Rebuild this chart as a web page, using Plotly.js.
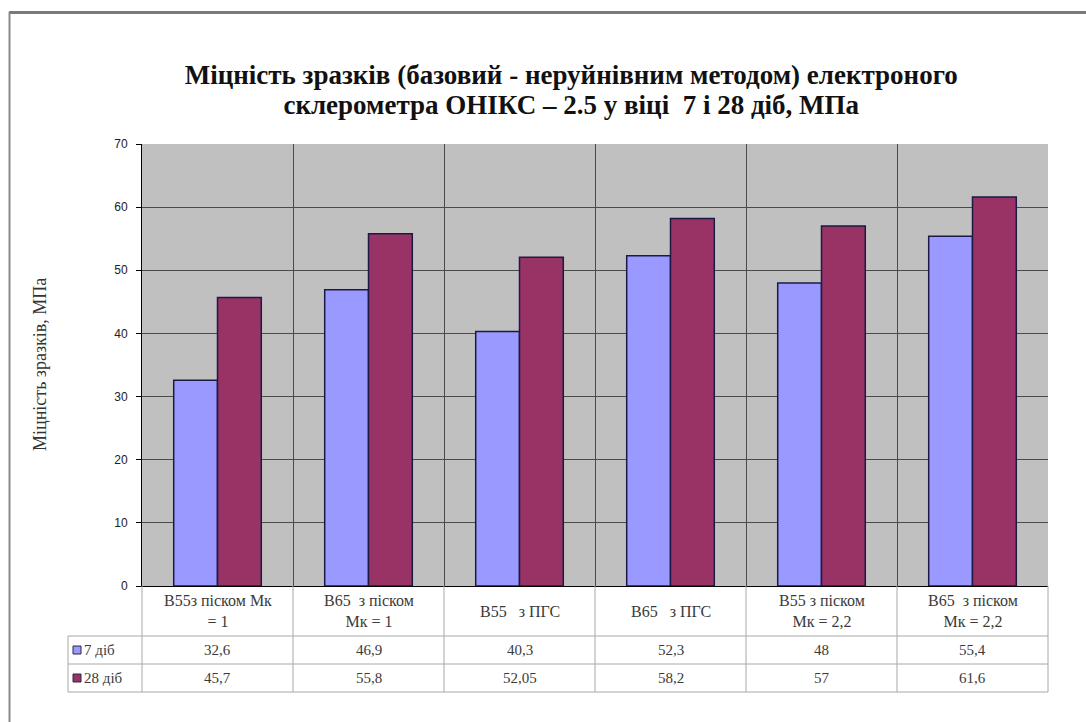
<!DOCTYPE html>
<html>
<head>
<meta charset="utf-8">
<script src="https://cdn.plot.ly/plotly-3.0.1.min.js"></script>
<style>
  html, body { margin: 0; padding: 0; background: #ffffff; }
  #chart { width: 1086px; height: 722px; }
</style>
</head>
<body>
<div id="chart"></div>
<script>
// Categories (sample groups) and strength values, MPa
const categories = [
  'В55з піском Мк<br>= 1',
  'В65  з піском<br>Мк = 1',
  'В55   з ПГС',
  'В65   з ПГС',
  'В55 з піском<br>Мк = 2,2',
  'В65  з піском<br>Мк = 2,2'
];
const seriesNames = ['7 діб', '28 діб'];
const values7 = [32.6, 46.9, 40.3, 52.3, 48, 55.4];
const values28 = [45.7, 55.8, 52.05, 58.2, 57, 61.6];
const yTicks = [0, 10, 20, 30, 40, 50, 60, 70];

const seriesValues = [values7, values28];
const seriesColors = ['#9999FF', '#993366'];

// Plot-area frame in pixels, used to place the data table below the axis
const W = 1086, H = 722;
const PL = 142, PR = 1048, PT = 144, PB = 586;
const px = p => (p - PL) / (PR - PL);
const py = p => (PB - p) / (PB - PT);

const serif = 'Liberation Serif, Times New Roman, serif';
const sans = 'Liberation Sans, Arial, sans-serif';
const tableLine = '#a8a8a8';
const tableText = '#3a3a3a';

const traces = seriesNames.map((name, s) => ({
  type: 'bar',
  name: name,
  x: categories,
  y: seriesValues[s],
  marker: { color: seriesColors[s], line: { color: '#1c1a45', width: 1.5 } },
  hoverinfo: 'skip'
}));

const shapes = [];
const annotations = [];

// Table rows: header row, then one row per series
const rowLines = [636, 664, 692];
rowLines.forEach(r => shapes.push({
  type: 'line', xref: 'paper', yref: 'paper',
  x0: px(68), x1: px(PR), y0: py(r), y1: py(r),
  line: { color: tableLine, width: 1 }
}));
// Table column separators at the category boundaries
for (let i = 0; i < categories.length - 1; i++) {
  shapes.push({
    type: 'line', xref: 'x', yref: 'paper',
    x0: i + 0.5, x1: i + 0.5, y0: py(PB), y1: py(692),
    line: { color: tableLine, width: 1 }
  });
}
[PL, PR].forEach(c => shapes.push({
  type: 'line', xref: 'paper', yref: 'paper',
  x0: px(c), x1: px(c), y0: py(PB), y1: py(692),
  line: { color: tableLine, width: 1 }
}));
shapes.push({
  type: 'line', xref: 'paper', yref: 'paper',
  x0: px(68), x1: px(68), y0: py(636), y1: py(692),
  line: { color: tableLine, width: 1 }
});

// Header row: category names
categories.forEach(c => annotations.push({
  xref: 'x', yref: 'paper', x: c, y: py(611),
  xanchor: 'center', yanchor: 'middle',
  text: c, showarrow: false, align: 'center',
  font: { family: serif, size: 16, color: tableText }
}));

// Series rows: legend key, name and values
const rowCenters = [650, 678];
seriesNames.forEach((name, s) => {
  const yc = rowCenters[s];
  shapes.push({
    type: 'rect', xref: 'paper', yref: 'paper',
    x0: px(73), x1: px(81), y0: py(yc + 4), y1: py(yc - 4),
    fillcolor: seriesColors[s], line: { color: '#2a2a40', width: 1 }
  });
  annotations.push({
    xref: 'paper', yref: 'paper', x: px(82), y: py(yc),
    xanchor: 'left', yanchor: 'middle', text: name, showarrow: false,
    font: { family: serif, size: 15, color: tableText }
  });
  seriesValues[s].forEach((v, i) => annotations.push({
    xref: 'x', yref: 'paper', x: categories[i], y: py(yc),
    xanchor: 'center', yanchor: 'middle',
    text: String(v).replace('.', ','), showarrow: false,
    font: { family: serif, size: 15, color: tableText }
  }));
});

// Y axis title
annotations.push({
  xref: 'paper', yref: 'paper', x: px(40), y: py(365),
  xanchor: 'center', yanchor: 'middle',
  text: 'Міцність зразків, МПа', textangle: -90, showarrow: false,
  font: { family: serif, size: 18, color: '#333333' }
});

// Outer frame (top and left edges)
shapes.push({
  type: 'line', xref: 'paper', yref: 'paper',
  x0: px(9), x1: px(W), y0: py(12.5), y1: py(12.5),
  line: { color: '#7a7a7a', width: 3 }
});
shapes.push({
  type: 'line', xref: 'paper', yref: 'paper',
  x0: px(9.5), x1: px(9.5), y0: py(12), y1: py(H),
  line: { color: '#8a8a8a', width: 2 }
});

const titleLines = [
  'Міцність зразків (базовий - неруйнівним методом) електроного',
  'склерометра ОНІКС – 2.5 у віці  7 і 28 діб, МПа'
];

const layout = {
  width: W, height: H,
  paper_bgcolor: '#ffffff',
  plot_bgcolor: '#c0c0c0',
  margin: { l: PL, r: W - PR, t: PT, b: H - PB, pad: 0 },
  showlegend: false,
  barmode: 'group',
  bargap: 0.42,
  bargroupgap: 0,
  title: {
    // line spacing follows the base size; glyphs use the span size
    text: titleLines.map(t => '<span style="font-size:27px">' + t + '</span>').join('<br>'),
    font: { family: serif, size: 23, color: '#111111', weight: 'bold' },
    xref: 'container', yref: 'container',
    x: 0.526, y: 1 - 84 / H, xanchor: 'center', yanchor: 'middle'
  },
  xaxis: {
    type: 'category',
    tickson: 'boundaries',
    showgrid: true, gridcolor: '#4a4a4a', gridwidth: 1,
    showticklabels: false, ticks: '',
    showline: true, linecolor: '#000000', linewidth: 1,
    fixedrange: true
  },
  yaxis: {
    range: [0, 70],
    tickvals: yTicks,
    ticks: 'outside', ticklen: 5, tickcolor: '#000000',
    ticklabelstandoff: 6,
    showgrid: true, gridcolor: '#4a4a4a', gridwidth: 1,
    zeroline: false,
    showline: true, linecolor: '#000000', linewidth: 1,
    tickfont: { family: sans, size: 12, color: '#222222' },
    fixedrange: true
  },
  shapes: shapes,
  annotations: annotations
};

Plotly.newPlot('chart', traces, layout, { displayModeBar: false, staticPlot: true });
</script>
</body>
</html>
